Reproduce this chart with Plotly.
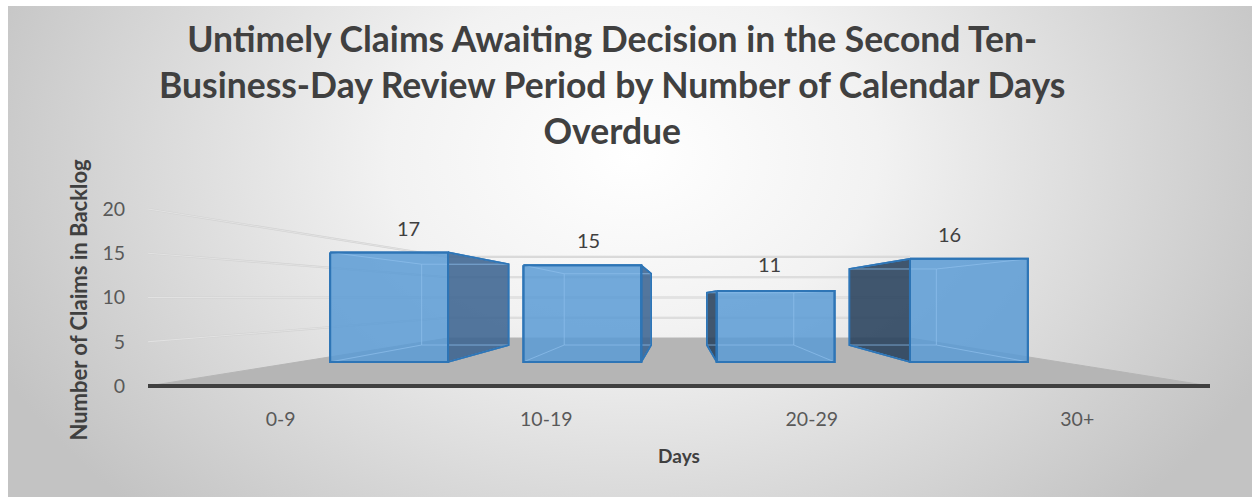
import base64
import plotly.graph_objects as go

# ---------------- data ----------------
categories = ["0-9", "10-19", "20-29", "30+"]
claims = [17, 15, 11, 16]
y_tick_values = [0, 5, 10, 15, 20]
grid_values = [5, 10, 15, 20]

chart_title = ("Untimely Claims Awaiting Decision in the Second Ten-<br>"
               "Business-Day Review Period by Number of Calendar Days<br>"
               "Overdue")
x_title = "Days"
y_title = "Number of Claims in Backlog"

# ---------------- perspective style settings ----------------
VP_X, VP_Y = 1.5, 10.0          # vanishing point in axis units
S_BAR_FRONT, S_BAR_BACK = 0.728, 0.537
SX_WALL, SY_WALL = 0.435, 0.458
HALF_W = 0.305
S_LABEL = 0.68

FRONT_FILL = "rgba(91,155,213,0.85)"
EDGE = "#2E75B6"
RIGHT_SIDE = "rgba(60,100,145,0.88)"
LEFT_SIDE = "rgba(40,65,92,0.88)"
INNER = "rgba(140,190,235,0.75)"
FLOOR = "#b5b5b5"
GRID = "#d2d2d2"


def proj(x, y, sx, sy=None):
    if sy is None:
        sy = sx
    return VP_X + (x - VP_X) * sx, VP_Y + (y - VP_Y) * sy


def poly(points, fill, line_color, line_width):
    xs = [p[0] for p in points] + [points[0][0]]
    ys = [p[1] for p in points] + [points[0][1]]
    return go.Scatter(x=xs, y=ys, mode="lines", fill="toself" if fill else None,
                      fillcolor=fill, line=dict(color=line_color, width=line_width),
                      hoverinfo="skip", showlegend=False)


def seg(points, color, width):
    return go.Scatter(x=[p[0] for p in points], y=[p[1] for p in points], mode="lines",
                      line=dict(color=color, width=width), hoverinfo="skip",
                      showlegend=False)


fig = go.Figure()

# floor
x_lo, x_hi = -0.5, len(categories) - 0.5
floor_pts = [(x_lo, 0), (x_hi, 0),
             proj(x_hi, 0, SX_WALL, SY_WALL), proj(x_lo, 0, SX_WALL, SY_WALL)]
fig.add_trace(poly(floor_pts, FLOOR, FLOOR, 1))

# gridlines on the side wall and the back wall
for v in grid_values:
    bl = proj(x_lo, v, SX_WALL, SY_WALL)
    br = proj(x_hi, v, SX_WALL, SY_WALL)
    fig.add_trace(seg([(x_lo, v), bl, br], GRID, 2.2))
    fig.add_trace(seg([(x_lo, v), bl, br], "rgba(255,255,255,0.6)", 0.6))

# bars as perspective boxes
for i, v in enumerate(claims):
    xl, xr = i - HALF_W, i + HALF_W
    fTL, fTR = proj(xl, v, S_BAR_FRONT), proj(xr, v, S_BAR_FRONT)
    fBL, fBR = proj(xl, 0, S_BAR_FRONT), proj(xr, 0, S_BAR_FRONT)
    bTL, bTR = proj(xl, v, S_BAR_BACK), proj(xr, v, S_BAR_BACK)
    bBL, bBR = proj(xl, 0, S_BAR_BACK), proj(xr, 0, S_BAR_BACK)
    if i < VP_X:
        side = [fTR, bTR, bBR, fBR]
        side_col = RIGHT_SIDE
    else:
        side = [fTL, bTL, bBL, fBL]
        side_col = LEFT_SIDE
    fig.add_trace(poly(side, side_col, EDGE, 1.6))
    fig.add_trace(poly([fTL, fTR, fBR, fBL], FRONT_FILL, EDGE, 2))
    # inner (see-through) edges
    fig.add_trace(seg([bTL, bTR, bBR, bBL, bTL], INNER, 1))
    for a, b in ((fTL, bTL), (fTR, bTR), (fBL, bBL), (fBR, bBR)):
        fig.add_trace(seg([a, b], INNER, 1))
    fig.add_trace(poly([fTL, fTR, fBR, fBL], None, EDGE, 2))
    fig.add_trace(poly(side, None, EDGE, 1.6))

# data labels
for i, v in enumerate(claims):
    lx, ly = proj(i, v, S_LABEL)
    fig.add_annotation(x=lx, y=ly, text=str(v), showarrow=False, yshift=27,
                       font=dict(family="Lato", size=20, color="#404040"))

# background gradient
svg = ('<svg xmlns="http://www.w3.org/2000/svg" width="1244" height="491" '
       'viewBox="0 0 1244 491" preserveAspectRatio="none"><defs>'
       '<radialGradient id="g" gradientUnits="userSpaceOnUse" cx="0" cy="0" r="1" '
       'gradientTransform="translate(625 150) scale(700 500)">'
       '<stop offset="0" stop-color="#ffffff"/><stop offset="0.35" stop-color="#f2f2f2"/>'
       '<stop offset="1" stop-color="#c3c3c3"/></radialGradient></defs>'
       '<rect width="1244" height="491" fill="url(#g)"/></svg>')
src = "data:image/svg+xml;base64," + base64.b64encode(svg.encode()).decode()

W, H = 1252, 497
ML, MR, MT, MB = 148, 42, 150, 47
ZERO_PX = 386                      # pixel row of the value 0 (front edge of floor)
plot_w = W - ML - MR
plot_h = H - MT - MB
px_per_unit = 8.85
y_min = -(H - MB - ZERO_PX) / px_per_unit
y_max = (ZERO_PX - MT) / px_per_unit
axis_pos = (H - MB - ZERO_PX) / plot_h

fig.add_layout_image(dict(source=src, xref="paper", yref="paper",
                          x=(8 - ML) / plot_w, y=(H - MB - 6) / plot_h,
                          sizex=(W - 8) / plot_w, sizey=(H - 6) / plot_h,
                          xanchor="left", yanchor="top", sizing="stretch", layer="below"))

fig.update_layout(
    width=W, height=H,
    margin=dict(l=ML, r=MR, t=MT, b=MB),
    paper_bgcolor="white", plot_bgcolor="rgba(0,0,0,0)",
    title=dict(text="<b>" + chart_title + "</b>", x=0.489, xanchor="center",
               yref="container", y=1 - 52 / H, yanchor="middle",
               font=dict(family="Lato", size=35.5, color="#404040")),
    xaxis=dict(range=[x_lo, x_hi], tickvals=list(range(len(categories))),
               ticktext=categories, showgrid=False, zeroline=False,
               anchor="free", position=axis_pos,
               showline=True, linecolor="#404040", linewidth=4,
               ticks="outside", ticklen=15, tickcolor="rgba(0,0,0,0)",
               tickfont=dict(family="Lato", size=19.5, color="#595959"),
               title=dict(text="<b>" + x_title + "</b>", standoff=19,
                          font=dict(family="Lato", size=19, color="#404040"))),
    yaxis=dict(range=[y_min, y_max], tickvals=y_tick_values, showgrid=False,
               zeroline=False, showline=False, ticks="outside", ticklen=18,
               tickcolor="rgba(0,0,0,0)",
               tickfont=dict(family="Lato", size=19.5, color="#595959"),
               title=dict(text="<b>" + y_title + "</b>", standoff=8,
                          font=dict(family="Lato", size=22, color="#404040"))),
    showlegend=False,
)

fig.write_html("out.html", config={"displayModeBar": False},
               post_script="document.body.style.margin='0';")
